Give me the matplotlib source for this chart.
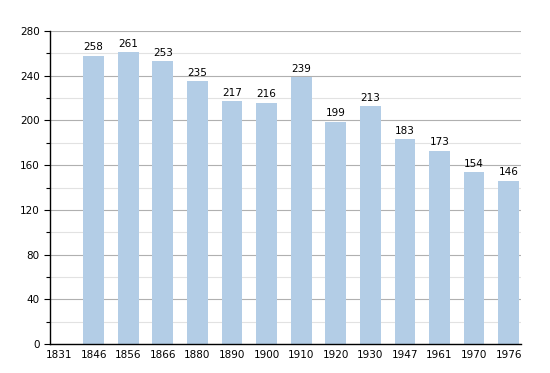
import numpy as np
from matplotlib import pyplot as plt
from matplotlib.ticker import MultipleLocator

# Population by census year (1831 has no value)
years = ["1831", "1846", "1856", "1866", "1880", "1890", "1900",
         "1910", "1920", "1930", "1947", "1961", "1970", "1976"]
population = [None, 258, 261, 253, 235, 217, 216,
              239, 199, 213, 183, 173, 154, 146]

fig = plt.figure(figsize=(5.5, 3.73), dpi=100)
ax = fig.add_axes([0.0909, 0.0777, 0.856, 0.839])

x = np.arange(len(years))
vals = [0 if v is None else v for v in population]
bars = ax.bar(x, vals, width=0.6, color="#b3cde6", zorder=2)

# value labels above each bar
for xi, v in zip(x, population):
    if v is not None:
        ax.text(xi, v + 3, str(v), ha="center", va="bottom", fontsize=7.5)

ax.set_xlim(-0.26, 13.35)
ax.set_ylim(0, 280)
ax.set_xticks(x)
ax.set_xticklabels(years, fontsize=7.5)
ax.yaxis.set_major_locator(MultipleLocator(40))
ax.yaxis.set_minor_locator(MultipleLocator(20))
ax.tick_params(axis="y", labelsize=7.5, length=4, width=0.8)
ax.tick_params(axis="y", which="minor", length=3, width=0.8)
ax.tick_params(axis="x", length=0, pad=4)

ax.grid(axis="y", which="major", color="#b0b0b0", linewidth=0.8, zorder=0)
ax.grid(axis="y", which="minor", color="#e2e2e2", linewidth=0.8, zorder=0)
ax.set_axisbelow(True)

ax.spines["top"].set_visible(False)
ax.spines["right"].set_visible(False)
ax.spines["left"].set_linewidth(1.0)
ax.spines["bottom"].set_linewidth(1.0)

plt.savefig("out.png", dpi=100)
